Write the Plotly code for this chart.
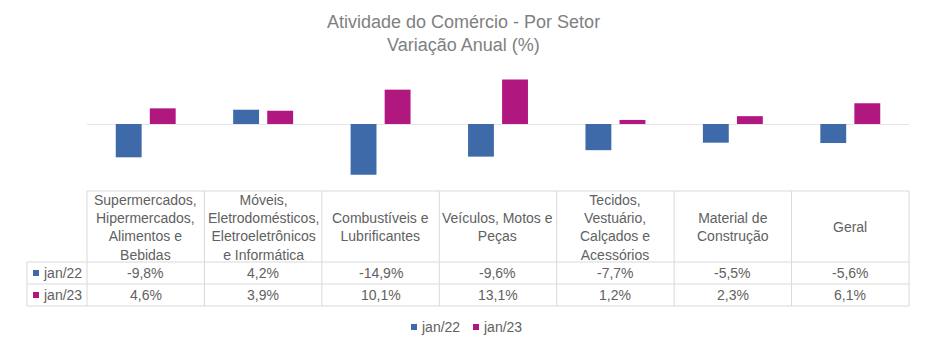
import plotly.graph_objects as go

W, H = 927, 350

categories = [
    "Supermercados,<br>Hipermercados,<br>Alimentos e<br>Bebidas",
    "Móveis,<br>Eletrodomésticos,<br>Eletroeletrônicos<br>e Informática",
    "Combustíveis e<br>Lubrificantes",
    "Veículos, Motos e<br>Peças",
    "Tecidos,<br>Vestuário,<br>Calçados e<br>Acessórios",
    "Material de<br>Construção",
    "Geral",
]
series_names = ["jan/22", "jan/23"]
jan22 = [-9.8, 4.2, -14.9, -9.6, -7.7, -5.5, -5.6]
jan23 = [4.6, 3.9, 10.1, 13.1, 1.2, 2.3, 6.1]
colors = ["#3F6AAA", "#B0177F"]
title_lines = ["Atividade do Comércio - Por Setor", "Variação Anual (%)"]

def px(x):
    return x / W

def py(y):
    return 1 - y / H

x_left, x_right = 87, 909
zero_y, scale = 124, 3.4
plot_top, plot_bot = 55, 185

fig = go.Figure()
xs = list(range(len(categories)))
for name, vals, col in zip(series_names, [jan22, jan23], colors):
    fig.add_bar(x=xs, y=vals, name=name, marker=dict(color=col, line=dict(width=0)),
                showlegend=False, hoverinfo="y")

fig.update_layout(
    width=W, height=H,
    margin=dict(l=0, r=0, t=0, b=0),
    paper_bgcolor="white", plot_bgcolor="white",
    barmode="group", bargap=0.42, bargroupgap=0.24,
    xaxis=dict(domain=[px(x_left), px(x_right)], range=[-0.5, len(categories) - 0.5],
               showticklabels=False, showgrid=False, zeroline=False, showline=False, ticks=""),
    yaxis=dict(domain=[py(plot_bot), py(plot_top)],
               range=[-(plot_bot - zero_y) / scale, (zero_y - plot_top) / scale],
               showticklabels=False, showgrid=False, zeroline=True,
               zerolinecolor="#E6E6E6", zerolinewidth=1, showline=False, ticks=""),
    font=dict(family="Liberation Sans, Arial, sans-serif"),
)

shapes = []
annotations = []

# Title
for i, t in enumerate(title_lines):
    annotations.append(dict(x=0.5, y=py(22 + 23 * i), xref="paper", yref="paper", text=t,
                            showarrow=False, xanchor="center", yanchor="middle",
                            font=dict(size=18, color="#7F7F7F")))

# Table geometry
border = "#D9D9D9"
y_head_top, y_head_bot, y_r1, y_r2 = 191, 262, 284, 306
x_key = 27
n = len(categories)
colw = (x_right - x_left) / n

def hline(x0, x1, y):
    shapes.append(dict(type="line", xref="paper", yref="paper", x0=px(x0), x1=px(x1),
                       y0=py(y), y1=py(y), line=dict(color=border, width=1)))

def vline(x, y0, y1):
    shapes.append(dict(type="line", xref="paper", yref="paper", x0=px(x), x1=px(x),
                       y0=py(y0), y1=py(y1), line=dict(color=border, width=1)))

hline(x_left, x_right, y_head_top)
for y in (y_head_bot, y_r1, y_r2):
    hline(x_key, x_right, y)
vline(x_key, y_head_bot, y_r2)
for i in range(n + 1):
    vline(x_left + colw * i, y_head_top, y_r2)

txt = "#616161"
for i, c in enumerate(categories):
    cx = x_left + colw * (i + 0.5)
    annotations.append(dict(x=px(cx), y=py(227), xref="paper", yref="paper", text=c,
                            showarrow=False, xanchor="center", yanchor="middle",
                            align="center", font=dict(size=14, color=txt)))

def fmt(v):
    return f"{v:.1f}".replace(".", ",") + "%"

row_centers = [(y_head_bot + y_r1) / 2, (y_r1 + y_r2) / 2]
for r, (name, vals, col) in enumerate(zip(series_names, [jan22, jan23], colors)):
    yc = row_centers[r]
    shapes.append(dict(type="rect", xref="paper", yref="paper", x0=px(33), x1=px(39),
                       y0=py(yc + 3), y1=py(yc - 3), fillcolor=col, line=dict(width=0)))
    annotations.append(dict(x=px(41), y=py(yc), xref="paper", yref="paper", text=name,
                            showarrow=False, xanchor="left", yanchor="middle",
                            font=dict(size=14, color=txt)))
    for i, v in enumerate(vals):
        cx = x_left + colw * (i + 0.5)
        annotations.append(dict(x=px(cx), y=py(yc), xref="paper", yref="paper", text=fmt(v),
                                showarrow=False, xanchor="center", yanchor="middle",
                                font=dict(size=14, color=txt)))

# Bottom legend
leg_y = 327
for x0, name, col in zip([411, 473], series_names, colors):
    shapes.append(dict(type="rect", xref="paper", yref="paper", x0=px(x0), x1=px(x0 + 6),
                       y0=py(leg_y + 3), y1=py(leg_y - 3), fillcolor=col, line=dict(width=0)))
    annotations.append(dict(x=px(x0 + 8), y=py(leg_y), xref="paper", yref="paper", text=name,
                            showarrow=False, xanchor="left", yanchor="middle",
                            font=dict(size=14, color=txt)))

fig.update_layout(shapes=shapes, annotations=annotations)
fig.write_html("out.html")
